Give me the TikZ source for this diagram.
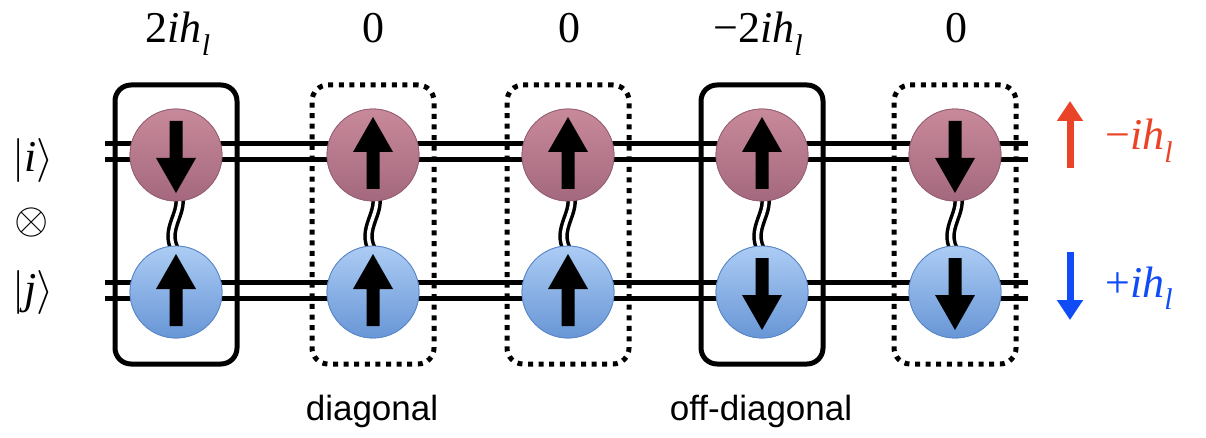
\documentclass[tikz,border=0pt]{standalone}
\usepackage{fontspec}
\setmainfont{Liberation Serif}
\newfontfamily\labelsans{Liberation Sans}
\usetikzlibrary{arrows.meta}

\definecolor{mauveTop}{RGB}{200,138,154}
\definecolor{mauveBot}{RGB}{164,104,126}
\definecolor{mauveEdge}{RGB}{150,96,116}
\definecolor{skyTop}{RGB}{172,204,244}
\definecolor{skyBot}{RGB}{104,150,214}
\definecolor{skyEdge}{RGB}{88,134,200}
\definecolor{fieldRed}{RGB}{234,68,40}
\definecolor{fieldBlue}{RGB}{16,76,246}

% italic subscript l, set low as in the original typesetting
\newcommand{\subl}{\raisebox{-0.28em}{\fontsize{30}{30}\selectfont\itshape l}}
% filled spin arrow inside a site node: #2 = 1 points up, -1 points down
\newcommand{\spinarrow}[2]{%
  \fill[shift={(#1.center)}, yscale=#2]
    (0,-38) -- (20,-3) -- (6.5,-3) -- (6.5,34) -- (-6.5,34) -- (-6.5,-3) -- (-20,-3) -- cycle;}

\begin{document}
\begin{tikzpicture}[x=1pt, y=-1pt,
  rail/.style={line width=5pt},
  solidbox/.style={draw, line width=5pt, rounded corners=16pt,
    minimum width=122pt, minimum height=279pt, inner sep=0pt},
  dotbox/.style={solidbox, dash pattern=on 5pt off 5.6pt},
  upper/.style={circle, minimum size=92pt, inner sep=0pt,
    top color=mauveTop, bottom color=mauveBot, draw=mauveEdge, line width=0.8pt},
  lower/.style={circle, minimum size=92pt, inner sep=0pt,
    top color=skyTop, bottom color=skyBot, draw=skyEdge, line width=0.8pt},
  bond/.style={line width=3.5pt, double=white, double distance=3.5pt},
  toplab/.style={anchor=base, inner sep=0pt, font=\fontsize{44}{44}\selectfont},
  ketlab/.style={anchor=base, inner sep=0pt, scale=4.4, font=\fontsize{10}{10}\selectfont},
  fieldlab/.style={anchor=base west, inner sep=0pt, font=\fontsize{44}{44}\selectfont},
  caption/.style={anchor=base, inner sep=0pt, font=\labelsans\fontsize{35}{35}\selectfont},
  fieldarrow/.style={line width=7pt, -{Triangle[width=25pt,length=20pt]}}
]
\useasboundingbox (0,0) rectangle (1206,438);

% rails of the two chains
\coordinate (r1a) at (105,144); \coordinate (r1b) at (1028,144);
\coordinate (r2a) at (105,160); \coordinate (r2b) at (1028,160);
\coordinate (r3a) at (105,282); \coordinate (r3b) at (1028,282);
\coordinate (r4a) at (105,298); \coordinate (r4b) at (1028,298);
\draw[rail] (r1a) -- (r1b);
\draw[rail] (r2a) -- (r2b);
\draw[rail] (r3a) -- (r3b);
\draw[rail] (r4a) -- (r4b);

% frames round each pair of sites
\node[solidbox] (box1) at (176,224.5) {};
\node[dotbox]   (box2) at (373,224.5) {};
\node[dotbox]   (box3) at (568,224.5) {};
\node[solidbox] (box4) at (762,224.5) {};
\node[dotbox]   (box5) at (955,224.5) {};

% bonds between the sites, then the sites
\foreach \n/\x in {1/176,2/373,3/568,4/762,5/955}{
  \node[upper] (a\n) at (\x,155) {};
  \node[lower] (b\n) at (\x,292) {};
}
\foreach \n in {1,...,5}{
  \draw[bond] ([xshift=3pt,yshift=4pt]a\n.south)
    .. controls ([xshift=7pt,yshift=-12pt]a\n.south)
    and ([xshift=-12pt,yshift=16pt]b\n.north)
    .. ([xshift=-1pt,yshift=-4pt]b\n.north);
}
\foreach \n in {1,...,5}{
  \node[upper] at (a\n) {};
  \node[lower] at (b\n) {};
}

% spins
\spinarrow{a1}{-1} \spinarrow{b1}{1}
\spinarrow{a2}{1}  \spinarrow{b2}{1}
\spinarrow{a3}{1}  \spinarrow{b3}{1}
\spinarrow{a4}{1}  \spinarrow{b4}{-1}
\spinarrow{a5}{-1} \spinarrow{b5}{-1}

% energies above the columns
\node[toplab] (e1) at (178,43) {2\textit{ih}\subl};
\node[toplab] (e2) at (373,43) {0};
\node[toplab] (e3) at (569,43) {0};
\node[toplab] (e4) at (758,43) {−2\textit{ih}\subl};
\node[toplab] (e5) at (956,43) {0};

% states on the left
\node[ketlab] (ki) at (33,172) {$\vert$\textit{i}$\rangle$};
\node[ketlab] (kx) at (32,233) {$\otimes$};
\node[ketlab] (kj) at (33,303) {$\vert$\textit{j}$\rangle$};

% field legend on the right
\coordinate (ru0) at (1070,168); \coordinate (ru1) at (1070,101);
\coordinate (bd0) at (1070,252); \coordinate (bd1) at (1070,320);
\draw[fieldarrow, fieldRed] (ru0) -- (ru1);
\draw[fieldarrow, fieldBlue] (bd0) -- (bd1);
\node[fieldlab, text=fieldRed]  (hr) at (1105,150) {−\textit{ih}\subl};
\node[fieldlab, text=fieldBlue] (hb) at (1105,297) {+\textit{ih}\subl};

% captions
\node[caption] (cd) at (372,420) {diagonal};
\node[caption] (co) at (761,420) {off-diagonal};
\end{tikzpicture}
\end{document}
